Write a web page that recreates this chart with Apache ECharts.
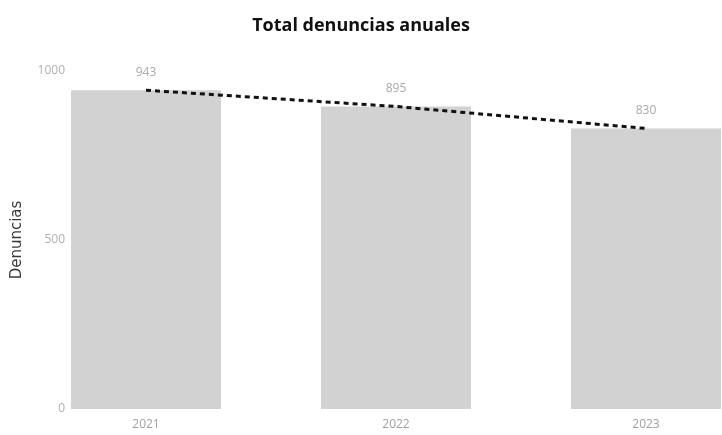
<!DOCTYPE html>
<html>
<head>
<meta charset="utf-8">
<script src="https://cdn.jsdelivr.net/npm/echarts@6/dist/echarts.min.js"></script>
<style>
html, body { margin: 0; padding: 0; background: #fff; }
#chart { width: 722px; height: 435px; }
</style>
</head>
<body>
<div id="chart"></div>
<script>
// datos
const years = ['2021', '2022', '2023'];
const denuncias = [943, 895, 830];
const yTicks = [0, 500, 1000];

const chart = echarts.init(document.getElementById('chart'));

const option = {
    backgroundColor: '#fff',
    animation: false,
    title: {
        text: 'Total denuncias anuales',
        left: 'center',
        top: 12,
        textStyle: {
            fontFamily: 'Open Sans',
            fontWeight: 'bold',
            fontSize: 18,
            color: '#111'
        }
    },
    grid: {
        left: 21,
        top: 71,
        width: 750,
        bottom: 26,
        containLabel: false,
        outerBoundsMode: 'none'
    },
    xAxis: {
        type: 'category',
        data: years,
        axisLine: { show: false },
        axisTick: { show: false },
        axisLabel: {
            color: '#a0a0a0',
            fontSize: 12,
            margin: 10,
            fontFamily: 'Open Sans'
        }
    },
    yAxis: {
        type: 'value',
        min: yTicks[0],
        max: yTicks[yTicks.length - 1],
        interval: 500,
        name: 'Denuncias',
        nameLocation: 'middle',
        nameGap: -4,
        nameMoveOverlap: false,
        nameTextStyle: {
            color: '#3a3a3a',
            fontSize: 15,
            fontFamily: 'DejaVu Sans'
        },
        axisLine: { show: false },
        axisTick: { show: false },
        splitLine: { show: false },
        axisLabel: {
            color: '#b0b0b0',
            fontSize: 12,
            margin: -44,
            fontFamily: 'Open Sans',
            formatter: (v) => String(v)
        }
    },
    series: [
        {
            name: 'Denuncias',
            type: 'bar',
            data: denuncias,
            barWidth: 150,
            itemStyle: { color: '#d2d2d2' },
            label: {
                show: true,
                position: 'top',
                distance: 12,
                color: '#a8a8a8',
                fontSize: 12,
                fontFamily: 'Open Sans'
            }
        },
        {
            name: 'Tendencia',
            type: 'line',
            data: denuncias,
            symbol: 'none',
            z: 5,
            lineStyle: {
                color: '#111',
                width: 3,
                type: [5, 4]
            }
        }
    ]
};

chart.setOption(option);
</script>
</body>
</html>
